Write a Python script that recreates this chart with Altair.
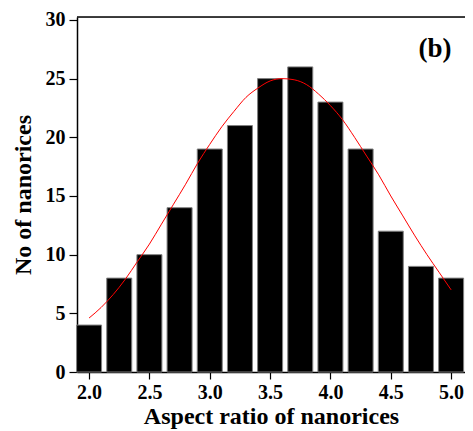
import altair as alt
import pandas as pd

# Histogram bars
bin_centers = [2.0, 2.25, 2.5, 2.75, 3.0, 3.25, 3.5, 3.75, 4.0, 4.25, 4.5, 4.75, 5.0]
counts = [4, 8, 10, 14, 19, 21, 25, 26, 23, 19, 12, 9, 8]

# Red fitted curve
fit_x = [2.0, 2.1, 2.2, 2.3, 2.4, 2.5, 2.6, 2.7, 2.8, 2.9, 3.0, 3.1, 3.2, 3.3, 3.4, 3.5,
         3.6, 3.7, 3.8, 3.9, 4.0, 4.1, 4.2, 4.3, 4.4, 4.5, 4.6, 4.7, 4.8, 4.9, 5.0]
fit_y = [4.6, 5.5, 6.6, 7.9, 9.4, 10.9, 12.6, 14.3, 16.0, 17.8, 19.4, 20.9, 22.2, 23.4, 24.2, 24.8,
         25.0, 24.9, 24.5, 23.7, 22.7, 21.5, 20.0, 18.4, 16.8, 15.0, 13.3, 11.6, 10.0, 8.5, 7.0]

x_ticks = [2.0, 2.25, 2.5, 2.75, 3.0, 3.25, 3.5, 3.75, 4.0, 4.25, 4.5, 4.75, 5.0]
y_ticks = [0, 2.5, 5, 7.5, 10, 12.5, 15, 17.5, 20, 22.5, 25, 27.5, 30]

bars_df = pd.DataFrame({"x": bin_centers, "n": counts})
fit_df = pd.DataFrame({"x": fit_x, "y": fit_y})

W, H = 388, 355
FONT = "Liberation Serif"

xscale = alt.Scale(domain=[1.9, 5.115], nice=False, zero=False, padding=0)
yscale = alt.Scale(domain=[0, 30.25], nice=False, padding=0)

xaxis = alt.Axis(
    title="Aspect ratio of nanorices",
    values=x_ticks,
    format=".1f",
    labelExpr="abs(datum.value*2 - round(datum.value*2)) < 0.01 ? datum.label : ''",
    tickSize={"condition": {"test": "abs(datum.value*2 - round(datum.value*2)) < 0.01", "value": 7}, "value": 5},
    grid=False,
    labelFont=FONT, labelFontSize=20, labelFontWeight="bold", labelColor="black",
    titleFont=FONT, titleFontSize=24, titleFontWeight="bold", titleColor="black",
    labelPadding=3, titlePadding=2,
    domainColor="black", domainWidth=1.5, tickColor="black", tickWidth=1.2,
    labelFlush=False, labelOverlap=False,
)
yaxis = alt.Axis(
    title="No of nanorices",
    values=y_ticks,
    format="d",
    labelExpr="datum.value % 5 === 0 ? datum.label : ''",
    tickSize={"condition": {"test": "datum.value % 5 === 0", "value": 8}, "value": 4},
    grid=False,
    labelFont=FONT, labelFontSize=20, labelFontWeight="bold", labelColor="black",
    titleFont=FONT, titleFontSize=24, titleFontWeight="bold", titleColor="black",
    labelPadding=4, titlePadding=10,
    domainColor="black", domainWidth=1.5, tickColor="black", tickWidth=1.2,
    labelFlush=False, labelOverlap=False,
)

bars = alt.Chart(bars_df).mark_bar(
    size=25, color="black", stroke="#808080", strokeWidth=1
).encode(
    x=alt.X("x:Q", scale=xscale, axis=xaxis),
    y=alt.Y("n:Q", scale=yscale, axis=yaxis),
)

fit = alt.Chart(fit_df).mark_line(
    color="#ff0000", strokeWidth=1, interpolate="monotone"
).encode(
    x=alt.X("x:Q", scale=xscale),
    y=alt.Y("y:Q", scale=yscale),
)

top_border = alt.Chart(pd.DataFrame({"a": [0]})).mark_rule(
    color="black", strokeWidth=1.5
).encode(x=alt.value(0), x2=alt.value(W), y=alt.value(0))

label = alt.Chart(pd.DataFrame({"t": ["(b)"]})).mark_text(
    font=FONT, fontSize=27, fontWeight="bold", color="black", align="center", baseline="middle"
).encode(text="t:N", x=alt.value(358), y=alt.value(32))

chart = alt.layer(bars, fit, top_border, label).properties(
    width=W, height=H,
    autosize=alt.AutoSizeParams(type="none"),
    padding={"left": 69, "top": 9, "right": 0, "bottom": 58},
).configure_view(stroke=None).configure(background="white")

chart.save("out.html", embed_options={"renderer": "svg", "actions": False})
